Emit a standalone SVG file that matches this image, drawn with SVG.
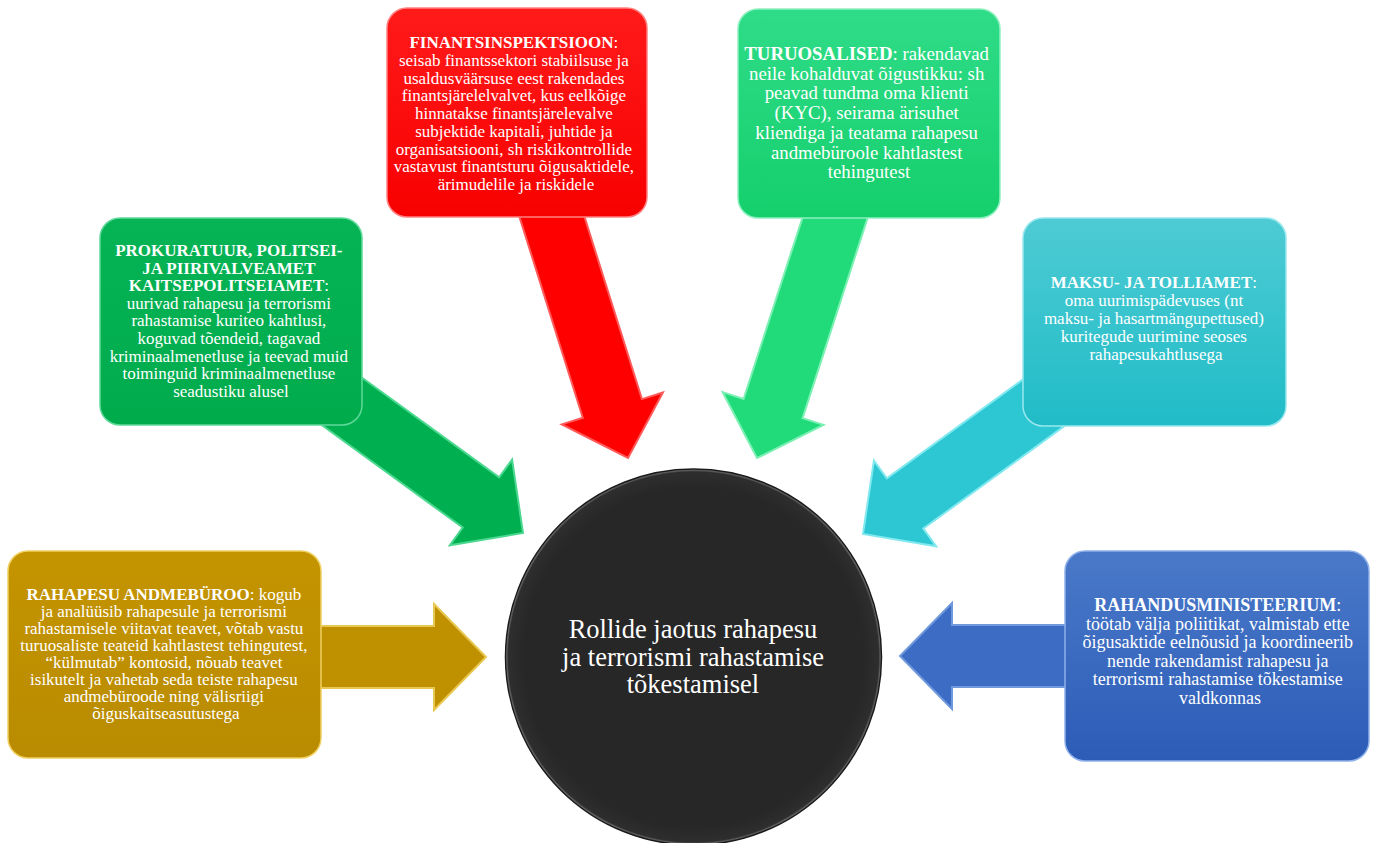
<svg xmlns="http://www.w3.org/2000/svg" width="1379" height="843" viewBox="0 0 1379 843">
<defs>
<linearGradient id="gRed" x1="0" y1="0" x2="0" y2="1"><stop offset="0" stop-color="#ff1a1a"/><stop offset="1" stop-color="#f80000"/></linearGradient>
<linearGradient id="gTurq" x1="0" y1="0" x2="0" y2="1"><stop offset="0" stop-color="#2fdc88"/><stop offset="1" stop-color="#15cf6c"/></linearGradient>
<linearGradient id="gGreen" x1="0" y1="0" x2="0" y2="1"><stop offset="0" stop-color="#06b455"/><stop offset="1" stop-color="#00ab4c"/></linearGradient>
<linearGradient id="gCyan" x1="0" y1="0" x2="0" y2="1"><stop offset="0" stop-color="#4ecbd4"/><stop offset="1" stop-color="#20bcc7"/></linearGradient>
<linearGradient id="gGold" x1="0" y1="0" x2="0" y2="1"><stop offset="0" stop-color="#c49400"/><stop offset="1" stop-color="#b98b00"/></linearGradient>
<linearGradient id="gBlue" x1="0" y1="0" x2="0" y2="1"><stop offset="0" stop-color="#4a79c9"/><stop offset="1" stop-color="#2c5cb7"/></linearGradient>
<radialGradient id="gCircle" cx="0.5" cy="0.5" r="0.5"><stop offset="0.9" stop-color="#272727"/><stop offset="0.985" stop-color="#2e2e2e"/><stop offset="1" stop-color="#8a8a8a"/></radialGradient>
</defs>
<style>
.box{stroke-width:1.5}
.arrow{stroke-width:2;stroke-linejoin:miter}
.t{font-family:"Liberation Serif","Times New Roman",serif;fill:#ffffff;text-anchor:middle}
.b{font-weight:bold}
</style>
<rect width="1379" height="843" fill="#ffffff"/>

<g id="connectors">
  <polygon class="arrow" fill="#bf9000" stroke="#e8c850" transform="translate(486,657)" points="-200,-31 -52,-31 -52,-53 0,0 -52,53 -52,31 -200,31"/>
  <polygon class="arrow" fill="#3d6cc4" stroke="#7098dc" transform="translate(900,656) rotate(180)" points="-200,-31 -52,-31 -52,-53 0,0 -52,53 -52,31 -200,31"/>
  <polygon class="arrow" fill="#00b050" stroke="#4cd890" transform="translate(523,533) rotate(36)" points="-230,-31 -52,-31 -52,-53 0,0 -52,53 -52,31 -230,31"/>
  <polygon class="arrow" fill="#ff0000" stroke="#ff5a5a" transform="translate(628,458) rotate(72.5)" points="-270,-31 -52,-31 -52,-53 0,0 -52,53 -52,31 -270,31"/>
  <polygon class="arrow" fill="#21db7b" stroke="#7af0b2" transform="translate(757,458) rotate(108)" points="-270,-31 -52,-31 -52,-53 0,0 -52,53 -52,31 -270,31"/>
  <polygon class="arrow" fill="#2cc7d2" stroke="#80e8ef" transform="translate(863,534) rotate(144)" points="-230,-31 -52,-31 -52,-53 0,0 -52,53 -52,31 -230,31"/>
</g>

<g id="center">
  <circle cx="693.5" cy="657" r="188" fill="url(#gCircle)" stroke="#1a1a1a" stroke-width="1.5"/>
  <text class="t" font-size="26.5"><tspan x="693" y="638">Rollide jaotus rahapesu</tspan><tspan x="693" y="665.5">ja terrorismi rahastamise</tspan><tspan x="693" y="693">tõkestamisel</tspan></text>
</g>

<g id="finantsinspektsioon">
  <rect class="box" x="387" y="8" width="260" height="209" rx="20" fill="url(#gRed)" stroke="#ff8080"/>
  <text class="t" font-size="17">
    <tspan x="516" y="48"><tspan class="b">FINANTSINSPEKTSIOON</tspan>:</tspan>
    <tspan x="516" y="65.75">seisab finantssektori stabiilsuse ja</tspan>
    <tspan x="516" y="83.5">usaldusväärsuse eest rakendades</tspan>
    <tspan x="516" y="101.25">finantsjärelelvalvet, kus eelkõige</tspan>
    <tspan x="516" y="119">hinnatakse finantsjärelevalve</tspan>
    <tspan x="516" y="136.75">subjektide kapitali, juhtide ja</tspan>
    <tspan x="516" y="154.5">organisatsiooni, sh riskikontrollide</tspan>
    <tspan x="516" y="172.25">vastavust finantsturu õigusaktidele,</tspan>
    <tspan x="516" y="190">ärimudelile ja riskidele</tspan>
  </text>
</g>

<g id="turuosalised">
  <rect class="box" x="738" y="9" width="262" height="209" rx="20" fill="url(#gTurq)" stroke="#8ff0bf"/>
  <text class="t" font-size="18.8">
    <tspan x="869" y="60"><tspan class="b">TURUOSALISED</tspan>: rakendavad</tspan>
    <tspan x="869" y="79.7">neile kohalduvat õigustikku: sh</tspan>
    <tspan x="869" y="99.4">peavad tundma oma klienti</tspan>
    <tspan x="869" y="119.1">(KYC), seirama ärisuhet</tspan>
    <tspan x="869" y="138.8">kliendiga ja teatama rahapesu</tspan>
    <tspan x="869" y="158.5">andmebüroole kahtlastest</tspan>
    <tspan x="869" y="178.2">tehingutest</tspan>
  </text>
</g>

<g id="prokuratuur">
  <rect class="box" x="100" y="218" width="262" height="207" rx="20" fill="url(#gGreen)" stroke="#5fd99a"/>
  <text class="t" font-size="17">
    <tspan x="231" y="256" class="b">PROKURATUUR, POLITSEI-</tspan>
    <tspan x="231" y="273.6" class="b">JA PIIRIVALVEAMET</tspan>
    <tspan x="231" y="291.2"><tspan class="b">KAITSEPOLITSEIAMET</tspan>:</tspan>
    <tspan x="231" y="308.8">uurivad rahapesu ja terrorismi</tspan>
    <tspan x="231" y="326.4">rahastamise kuriteo kahtlusi,</tspan>
    <tspan x="231" y="344">koguvad tõendeid, tagavad</tspan>
    <tspan x="231" y="361.6">kriminaalmenetluse ja teevad muid</tspan>
    <tspan x="231" y="379.2">toiminguid kriminaalmenetluse</tspan>
    <tspan x="231" y="396.8">seadustiku alusel</tspan>
  </text>
</g>

<g id="maksuamet">
  <rect class="box" x="1023" y="218" width="263" height="208" rx="20" fill="url(#gCyan)" stroke="#9ae8ee"/>
  <text class="t" font-size="17">
    <tspan x="1156" y="288"><tspan class="b">MAKSU- JA TOLLIAMET</tspan>:</tspan>
    <tspan x="1156" y="306">oma uurimispädevuses (nt</tspan>
    <tspan x="1156" y="324">maksu- ja hasartmängupettused)</tspan>
    <tspan x="1156" y="342">kuritegude uurimine seoses</tspan>
    <tspan x="1156" y="360">rahapesukahtlusega</tspan>
  </text>
</g>

<g id="andmeburoo">
  <rect class="box" x="8" y="551" width="313" height="207" rx="20" fill="url(#gGold)" stroke="#f0d060"/>
  <text class="t" font-size="17">
    <tspan x="166" y="600"><tspan class="b">RAHAPESU ANDMEBÜROO</tspan>: kogub</tspan>
    <tspan x="166" y="617">ja analüüsib rahapesule ja terrorismi</tspan>
    <tspan x="166" y="634">rahastamisele viitavat teavet, võtab vastu</tspan>
    <tspan x="166" y="651">turuosaliste teateid kahtlastest tehingutest,</tspan>
    <tspan x="166" y="668">“külmutab” kontosid, nõuab teavet</tspan>
    <tspan x="166" y="685">isikutelt ja vahetab seda teiste rahapesu</tspan>
    <tspan x="166" y="702">andmebüroode ning välisriigi</tspan>
    <tspan x="166" y="719">õiguskaitseasutustega</tspan>
  </text>
</g>

<g id="rahandusministeerium">
  <rect class="box" x="1065" y="551" width="304" height="210" rx="20" fill="url(#gBlue)" stroke="#8fb0ea"/>
  <text class="t" font-size="18">
    <tspan x="1220" y="611"><tspan class="b">RAHANDUSMINISTEERIUM</tspan>:</tspan>
    <tspan x="1220" y="629.6">töötab välja poliitikat, valmistab ette</tspan>
    <tspan x="1220" y="648.2">õigusaktide eelnõusid ja koordineerib</tspan>
    <tspan x="1220" y="666.8">nende rakendamist rahapesu ja</tspan>
    <tspan x="1220" y="685.4">terrorismi rahastamise tõkestamise</tspan>
    <tspan x="1220" y="704">valdkonnas</tspan>
  </text>
</g>
</svg>
